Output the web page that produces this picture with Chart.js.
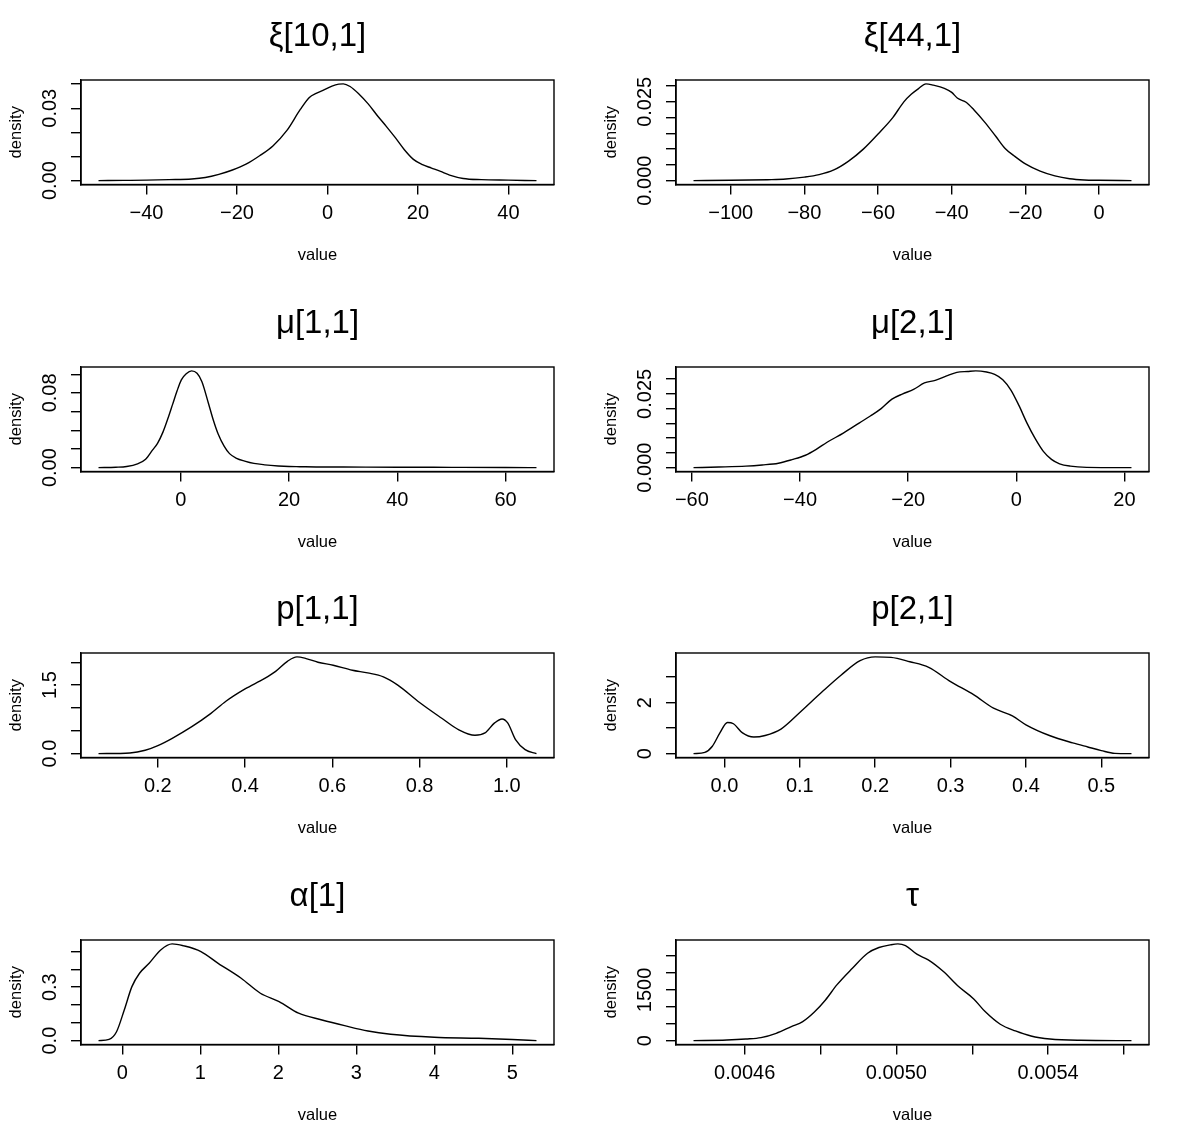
<!DOCTYPE html>
<html><head><meta charset="utf-8">
<script src="https://cdn.jsdelivr.net/npm/chart.js@4.4.1/dist/chart.umd.min.js"></script>
<style>
html,body{margin:0;padding:0;background:#fff;}
body{width:1190px;height:1146px;position:relative;overflow:hidden;}
.panel{position:absolute;width:595px;height:287px;}
</style></head><body>
<script>
// ---------- data ----------
const titles = ['ξ[10,1]', 'ξ[44,1]', 'μ[1,1]', 'μ[2,1]', 'p[1,1]', 'p[2,1]', 'α[1]', 'τ'];

const xi10X = [-50.6,-45,-40,-35,-30,-27,-24,-21,-18,-15,-12,-9,-6,-4,-2.5,-1,1,2.5,3.5,5,7,9,11,13,15,17,19,21,23,25,27,30,34,40,46.2];
const xi10Y = [0,0.0001,0.0002,0.0004,0.0007,0.0013,0.0026,0.0044,0.0068,0.0103,0.0145,0.0207,0.0295,0.0345,0.0362,0.0374,0.0392,0.0400,0.0401,0.0390,0.0358,0.0318,0.0270,0.0225,0.0178,0.0128,0.0088,0.0066,0.0052,0.0038,0.0023,0.0009,0.0004,0.0002,0];
const xi10XTicks = [-40,-20,0,20,40];
const xi10XLabels = ['−40','−20','0','20','40'];
const xi10YTicks = [0,0.01,0.02,0.03,0.04];
const xi10YLabels = ['0.00','','','0.03',''];

const xi44X = [-110.1,-100,-90,-85,-80,-76,-72,-68,-64,-60,-56,-53,-51,-49,-47,-45,-42,-40,-38.5,-36,-34,-31,-28,-25.5,-23,-20,-16,-12,-8,-4,0,8.8];
const xi44Y = [0,0.0001,0.0003,0.0005,0.0011,0.0019,0.0034,0.0062,0.0100,0.0148,0.0200,0.0250,0.0274,0.0292,0.0307,0.0303,0.0293,0.0280,0.0262,0.0248,0.0225,0.0185,0.0140,0.0102,0.0078,0.0053,0.0030,0.0015,0.0006,0.0002,0.0001,0];
const xi44XTicks = [-100,-80,-60,-40,-20,0];
const xi44XLabels = ['−100','−80','−60','−40','−20','0'];
const xi44YTicks = [0,0.005,0.010,0.015,0.020,0.025,0.030];
const xi44YLabels = ['0.000','','','','','0.025',''];

const mu1X = [-15.2,-12,-10,-8,-6.5,-5.2,-4.3,-3.3,-2.3,-1.5,-0.7,0.1,1.0,2.0,3.0,3.9,5.1,6.0,6.9,8.0,9.0,10.3,11.8,13.5,15.5,18,20,22,25,30,40,50,60,65.7];
const mu1Y = [0,0.0004,0.0012,0.0040,0.0090,0.0190,0.0260,0.0380,0.0540,0.0680,0.0820,0.0940,0.1005,0.1036,0.1010,0.0920,0.0690,0.0510,0.0360,0.0230,0.0150,0.0100,0.0070,0.0045,0.0030,0.0018,0.0012,0.0010,0.0007,0.0006,0.0004,0.0003,0.0002,0];
const mu1XTicks = [0,20,40,60];
const mu1XLabels = ['0','20','40','60'];
const mu1YTicks = [0,0.02,0.04,0.06,0.08,0.10];
const mu1YLabels = ['0.00','','','','0.08',''];

const mu2X = [-59.7,-55,-50,-47,-44,-41.5,-39,-37,-35,-32,-29,-27,-25,-23,-21,-19,-17,-15,-13,-11,-9,-7.5,-5.5,-4,-2.5,-1,0.5,2,3.5,5,6.5,8,10,13,21.3];
const mu2Y = [0,0.0002,0.0005,0.0009,0.0015,0.0027,0.0042,0.0062,0.0086,0.0117,0.0152,0.0175,0.0200,0.0232,0.0250,0.0265,0.0287,0.0296,0.0310,0.0323,0.0326,0.0328,0.0324,0.0316,0.0298,0.0263,0.0210,0.0150,0.0098,0.0055,0.0028,0.0013,0.0005,0.0001,0];
const mu2XTicks = [-60,-40,-20,0,20];
const mu2XLabels = ['−60','−40','−20','0','20'];
const mu2YTicks = [0,0.005,0.010,0.015,0.020,0.025,0.030];
const mu2YLabels = ['0.000','','','','','0.025',''];

const p1X = [0.064,0.136,0.171,0.2,0.233,0.277,0.321,0.356,0.4,0.444,0.47,0.497,0.519,0.54,0.567,0.602,0.646,0.681,0.717,0.75,0.8,0.85,0.89,0.927,0.95,0.972,0.989,1.002,1.02,1.042,1.068];
const p1Y = [0,0.015,0.073,0.175,0.336,0.584,0.876,1.146,1.416,1.64,1.80,2.02,2.117,2.08,2.0,1.934,1.825,1.766,1.68,1.50,1.12,0.78,0.52,0.401,0.453,0.672,0.759,0.672,0.307,0.088,0];
const p1XTicks = [0.2,0.4,0.6,0.8,1.0];
const p1XLabels = ['0.2','0.4','0.6','0.8','1.0'];
const p1YTicks = [0,0.5,1.0,1.5,2.0];
const p1YLabels = ['0.0','','','1.5',''];

const p2X = [-0.041,-0.026,-0.016,-0.006,0.004,0.012,0.024,0.039,0.054,0.075,0.1,0.13,0.155,0.18,0.2,0.221,0.246,0.271,0.3,0.331,0.357,0.382,0.4,0.432,0.462,0.482,0.5,0.518,0.54];
const p2Y = [0,0.05,0.29,0.81,1.22,1.17,0.81,0.65,0.71,0.96,1.61,2.43,3.08,3.64,3.79,3.77,3.60,3.38,2.82,2.30,1.78,1.48,1.13,0.70,0.42,0.26,0.12,0.01,0];
const p2XTicks = [0,0.1,0.2,0.3,0.4,0.5];
const p2XLabels = ['0.0','0.1','0.2','0.3','0.4','0.5'];
const p2YTicks = [0,1,2,3];
const p2YLabels = ['0','','2',''];

const alphaX = [-0.305,-0.17,-0.074,0.025,0.123,0.221,0.344,0.492,0.639,0.787,1.008,1.229,1.524,1.77,2.01,2.26,2.56,2.85,3.15,3.44,4.0,4.57,5.0,5.31];
const alphaY = [0,0.007,0.05,0.172,0.303,0.378,0.434,0.509,0.543,0.532,0.50,0.434,0.35,0.266,0.219,0.154,0.116,0.084,0.054,0.036,0.019,0.013,0.006,0];
const alphaXTicks = [0,1,2,3,4,5];
const alphaXLabels = ['0','1','2','3','4','5'];
const alphaYTicks = [0,0.1,0.2,0.3,0.4,0.5];
const alphaYLabels = ['0.0','','','0.3','',''];

const tauX = [0.004465,0.004553,0.004603,0.004643,0.004683,0.004723,0.004753,0.004783,0.004813,0.004843,0.004884,0.004924,0.004954,0.004984,0.005004,0.005024,0.005054,0.005084,0.005124,0.005164,0.005204,0.005234,0.005274,0.005314,0.005355,0.005405,0.005485,0.00562];
const tauY = [0,20,49,89,217,415,563,840,1205,1650,2144,2589,2757,2836,2865,2816,2559,2391,2045,1600,1235,860,484,287,138,49,10,0];
const tauXTicks = [0.0046,0.0048,0.0050,0.0052,0.0054,0.0056];
const tauXLabels = ['0.0046','','0.0050','','0.0054',''];
const tauYTicks = [0,500,1000,1500,2000,2500];
const tauYLabels = ['0','','','1500','',''];

const xLabel = 'value';
const yLabel = 'density';

// ---------- build ----------
const panels = [
  {x: xi10X, y: xi10Y, xt: xi10XTicks, xl: xi10XLabels, yt: xi10YTicks, yl: xi10YLabels},
  {x: xi44X, y: xi44Y, xt: xi44XTicks, xl: xi44XLabels, yt: xi44YTicks, yl: xi44YLabels},
  {x: mu1X, y: mu1Y, xt: mu1XTicks, xl: mu1XLabels, yt: mu1YTicks, yl: mu1YLabels},
  {x: mu2X, y: mu2Y, xt: mu2XTicks, xl: mu2XLabels, yt: mu2YTicks, yl: mu2YLabels},
  {x: p1X, y: p1Y, xt: p1XTicks, xl: p1XLabels, yt: p1YTicks, yl: p1YLabels},
  {x: p2X, y: p2Y, xt: p2XTicks, xl: p2XLabels, yt: p2YTicks, yl: p2YLabels},
  {x: alphaX, y: alphaY, xt: alphaXTicks, xl: alphaXLabels, yt: alphaYTicks, yl: alphaYLabels},
  {x: tauX, y: tauY, xt: tauXTicks, xl: tauXLabels, yt: tauYTicks, yl: tauYLabels}
];

const FONT = '"Liberation Sans", Arial, Helvetica, sans-serif';
const TICK_SIZE = 20;
const mctx = document.createElement('canvas').getContext('2d');
function measure(s) { mctx.font = TICK_SIZE + 'px ' + FONT; return mctx.measureText(s).width; }

const boxPlugin = {
  id: 'rbox',
  afterDatasetsDraw(chart) {
    const {ctx, chartArea: a} = chart;
    ctx.save();
    ctx.strokeStyle = '#000';
    ctx.lineWidth = 1.4;
    ctx.strokeRect(a.left, a.top, a.right - a.left, a.bottom - a.top);
    ctx.restore();
  }
};

const rowTops = [0, 287, 573, 860];

panels.forEach((p, i) => {
  const r = Math.floor(i / 2), c = i % 2;
  const div = document.createElement('div');
  div.className = 'panel';
  div.style.left = (c * 595) + 'px';
  div.style.top = rowTops[r] + 'px';
  const cv = document.createElement('canvas');
  div.appendChild(cv);
  document.body.appendChild(div);

  const xmin = Math.min(...p.x), xmax = Math.max(...p.x);
  const ymin = Math.min(...p.y), ymax = Math.max(...p.y);
  const dx = (xmax - xmin) * 0.04, dy = (ymax - ymin) * 0.04;
  const widest = Math.max(...p.yl.map(measure));

  const gridOpts = {display: true, drawOnChartArea: false, drawTicks: true, tickLength: 10, color: '#000', lineWidth: 1.4};
  const borderOpts = {display: true, color: '#000', width: 1.4};

  new Chart(cv, {
    type: 'line',
    data: {datasets: [{
      data: p.x.map((x, k) => ({x: x, y: p.y[k]})),
      borderColor: '#000', borderWidth: 1.4, pointRadius: 0, fill: false,
      cubicInterpolationMode: 'monotone'
    }]},
    options: {
      responsive: true, maintainAspectRatio: false, animation: false, devicePixelRatio: 1,
      events: [],
      layout: {padding: {left: 0, right: 41, top: 0, bottom: 0}},
      plugins: {
        legend: {display: false},
        tooltip: {enabled: false},
        title: {display: true, text: titles[i], fullSize: false, color: '#000',
          font: {family: FONT, size: 33, weight: 'normal', lineHeight: 1.2},
          padding: {top: 17, bottom: 23.4}}
      },
      scales: {
        x: {
          type: 'linear', position: 'bottom', min: xmin - dx, max: xmax + dx,
          afterBuildTicks: s => { s.ticks = p.xt.map(v => ({value: v})); },
          afterFit: s => { s.height = 102.5; },
          ticks: {autoSkip: false, minRotation: 0, maxRotation: 0, color: '#000',
            font: {family: FONT, size: TICK_SIZE, lineHeight: 1.2}, padding: 7,
            callback: (v, k) => p.xl[k]},
          grid: gridOpts, border: borderOpts,
          title: {display: true, text: xLabel, color: '#000',
            font: {family: FONT, size: 16.5, lineHeight: 1.2}, padding: {top: 0, bottom: 21.8}}
        },
        y: {
          type: 'linear', position: 'left', min: ymin - dy, max: ymax + dy,
          afterBuildTicks: s => { s.ticks = p.yt.map(v => ({value: v})); },
          afterFit: s => { s.width = 81; },
          ticks: {autoSkip: false, minRotation: 90, maxRotation: 90, crossAlign: 'center', color: '#000',
            font: {family: FONT, size: TICK_SIZE, lineHeight: 1.2}, padding: 20.5 - widest / 2,
            callback: (v, k) => p.yl[k]},
          grid: gridOpts, border: borderOpts,
          title: {display: true, text: yLabel, color: '#000',
            font: {family: FONT, size: 16.5, lineHeight: 1.2}, padding: {top: 6.1, bottom: 0}}
        }
      }
    },
    plugins: [boxPlugin]
  });
});
</script>
</body></html>
